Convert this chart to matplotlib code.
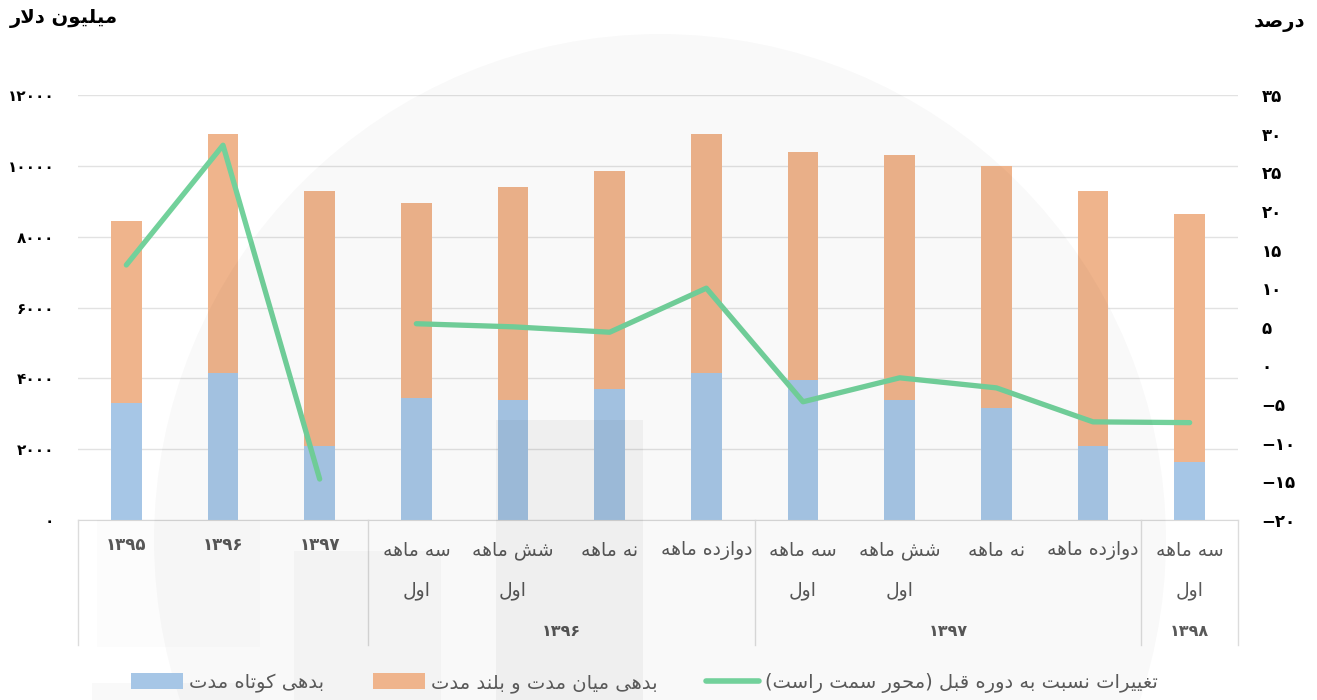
import matplotlib
matplotlib.use("Agg")
import matplotlib.pyplot as plt
from matplotlib.patches import Rectangle, Ellipse, Patch
from matplotlib.lines import Line2D
from matplotlib.transforms import blended_transform_factory
import numpy as np

"""
    Persian text helpers (matplotlib has no shaping, so pick the
    presentation forms by hand and lay the glyphs out right-to-left)
"""
# isolated, final, initial, medial  (None -> letter does not join forward)
FORMS = {
    "\u0627": ("\uFE8D", "\uFE8E", None, None),
    "\u0628": ("\uFE8F", "\uFE90", "\uFE91", "\uFE92"),
    "\u062A": ("\uFE95", "\uFE96", "\uFE97", "\uFE98"),
    "\u062D": ("\uFEA1", "\uFEA2", "\uFEA3", "\uFEA4"),
    "\u062F": ("\uFEA9", "\uFEAA", None, None),
    "\u0631": ("\uFEAD", "\uFEAE", None, None),
    "\u0632": ("\uFEAF", "\uFEB0", None, None),
    "\u0633": ("\uFEB1", "\uFEB2", "\uFEB3", "\uFEB4"),
    "\u0634": ("\uFEB5", "\uFEB6", "\uFEB7", "\uFEB8"),
    "\u0635": ("\uFEB9", "\uFEBA", "\uFEBB", "\uFEBC"),
    "\u063A": ("\uFECD", "\uFECE", "\uFECF", "\uFED0"),
    "\u0642": ("\uFED5", "\uFED6", "\uFED7", "\uFED8"),
    "\u0644": ("\uFEDD", "\uFEDE", "\uFEDF", "\uFEE0"),
    "\u0645": ("\uFEE1", "\uFEE2", "\uFEE3", "\uFEE4"),
    "\u0646": ("\uFEE5", "\uFEE6", "\uFEE7", "\uFEE8"),
    "\u0647": ("\uFEE9", "\uFEEA", "\uFEEB", "\uFEEC"),
    "\u0648": ("\uFEED", "\uFEEE", None, None),
    "\u06A9": ("\uFB8E", "\uFB8F", "\uFB90", "\uFB91"),
    "\u06CC": ("\uFBFC", "\uFBFD", "\uFBFE", "\uFBFF"),
}
LAM_ALEF = ("\uFEFB", "\uFEFC")
MIRROR = {"(": ")", ")": "("}
FA_DIGITS = str.maketrans("0123456789-", "۰۱۲۳۴۵۶۷۸۹\u2212")


def joins_forward(ch):
    return ch in FORMS and FORMS[ch][2] is not None


def shape_line(line):
    out = []
    i = 0
    n = len(line)
    while i < n:
        ch = line[i]
        if ch not in FORMS:
            out.append(MIRROR.get(ch, ch))
            i += 1
            continue
        prev_joins = i > 0 and joins_forward(line[i - 1])
        # lam + alef ligature
        if ch == "\u0644" and i + 1 < n and line[i + 1] == "\u0627":
            out.append(LAM_ALEF[1] if prev_joins else LAM_ALEF[0])
            i += 2
            continue
        next_joins = joins_forward(ch) and i + 1 < n and line[i + 1] in FORMS
        iso, fin, ini, med = FORMS[ch]
        if prev_joins and next_joins:
            out.append(med)
        elif prev_joins:
            out.append(fin)
        elif next_joins:
            out.append(ini)
        else:
            out.append(iso)
        i += 1
    return "".join(reversed(out))


def fa(text):
    return "\n".join(shape_line(line) for line in text.split("\n"))


def fa_num(value):
    return str(int(value)).translate(FA_DIGITS)


"""
    Data
"""
categories = ["۱۳۹۵", "۱۳۹۶", "۱۳۹۷",
              "سه ماهه\nاول", "شش ماهه\nاول", "نه ماهه", "دوازده ماهه",
              "سه ماهه\nاول", "شش ماهه\nاول", "نه ماهه", "دوازده ماهه",
              "سه ماهه\nاول"]
group_labels = ["۱۳۹۶", "۱۳۹۷", "۱۳۹۸"]
group_spans = [(3, 6), (7, 10), (11, 11)]

# million dollars
short_term = [3300, 4150, 2100, 3450, 3400, 3700, 4150, 3950, 3400, 3150, 2100, 1650]
long_term = [5150, 6750, 7200, 5500, 6000, 6150, 6750, 6450, 6900, 6850, 7200, 7000]
# percent change vs previous period (right axis)
change = [13.0, 28.5, -14.7, 5.4, 5.0, 4.3, 10.0, -4.7, -1.6, -2.9, -7.3, -7.4]

legend_labels = ["بدهی کوتاه مدت", "بدهی میان مدت و بلند مدت",
                 "تغییرات نسبت به دوره قبل (محور سمت راست)"]

blue = "#a6c6e6"
orange = "#efb48c"
green = "#72d19b"
label_gray = "#595959"
grid_gray = "#e2e2e2"

plt.rcParams["font.family"] = ["DejaVu Sans"]

W, H = 1317, 700
fig = plt.figure(figsize=(W / 100, H / 100), dpi=100)
ax = fig.add_axes([78 / W, 1 - 520 / H, (1238 - 78) / W, (520 - 95) / H])
ax2 = ax.twinx()

x = np.arange(len(categories))

ax.bar(x, short_term, width=0.32, color=blue, zorder=2)
ax.bar(x, long_term, width=0.32, bottom=short_term, color=orange, zorder=2)

ax.set_xlim(-0.5, len(categories) - 0.5)
ax.set_ylim(0, 12000)
ax.set_yticks(range(0, 12001, 2000))
ax.set_yticklabels([fa_num(v) for v in range(0, 12001, 2000)],
                   fontsize=11, fontweight="bold")
ax.tick_params(axis="y", length=0, pad=17)
ax.tick_params(axis="x", length=0, labelbottom=False)
ax.yaxis.grid(True, color=grid_gray, linewidth=1, zorder=0)
ax.set_axisbelow(True)
for side in ["top", "left", "right"]:
    ax.spines[side].set_visible(False)
ax.spines["bottom"].set_color("#d9d9d9")

# the line breaks between the yearly and the quarterly part
ax2.plot(x[:3], change[:3], color=green, linewidth=3.8, solid_capstyle="round", zorder=3)
ax2.plot(x[3:], change[3:], color=green, linewidth=3.8, solid_capstyle="round", zorder=3)
ax2.set_ylim(-20, 35)
ax2.set_yticks(range(-20, 36, 5))
ax2.set_yticklabels([fa_num(v) for v in range(-20, 36, 5)],
                    fontsize=12, fontweight="bold")
ax2.tick_params(axis="y", length=0, pad=17)
for side in ["top", "left", "right", "bottom"]:
    ax2.spines[side].set_visible(False)

"""
    Two level category axis
"""
trans = blended_transform_factory(ax.transData, fig.transFigure)
for i, cat in enumerate(categories):
    if cat[0] in "۰۱۲۳۴۵۶۷۸۹":
        ax.text(i, 1 - 545 / H, cat, transform=trans, ha="center", va="center",
                fontsize=12, fontweight="bold", color=label_gray)
    else:
        lines = cat.split("\n")
        for k, line in enumerate(lines):
            ax.text(i, 1 - (551 + 40 * k) / H, fa(line), transform=trans,
                    ha="center", va="center", fontsize=13.5,
                    color=label_gray)

for label, (a, b) in zip(group_labels, group_spans):
    ax.text((a + b) / 2, 1 - 632 / H, label, transform=trans, ha="center",
            va="center", fontsize=11.5, fontweight="bold", color=label_gray)

for sep in [-0.5, 2.5, 6.5, 10.5, 11.5]:
    fig.add_artist(Line2D([sep, sep], [1 - 520 / H, 1 - 645 / H], transform=trans,
                          color="#dcdcdc", linewidth=1))

"""
    Axis titles and legend
"""
fig.text(10 / W, 1 - 18 / H, fa("میلیون دلار"), ha="left", va="center",
         fontsize=14, fontweight="bold", color="black")
fig.text(1305 / W, 1 - 22 / H, fa("درصد"), ha="right", va="center",
         fontsize=14, fontweight="bold", color="black")

handles = [Patch(facecolor=blue), Patch(facecolor=orange),
           Line2D([], [], color=green, linewidth=4, solid_capstyle="round")]
fig.legend(handles, [fa(t) for t in legend_labels], loc="center",
           bbox_to_anchor=(644 / W, 1 - 683 / H), ncol=3, frameon=False,
           fontsize=14, handlelength=2.7, handleheight=0.9, handletextpad=0.3,
           columnspacing=2.5, labelcolor=label_gray)

"""
    Faint watermark over the chart
"""
wm = fig.transFigure
fig.add_artist(Ellipse((660 / W, 1 - 540 / H), 1012 / W, 1012 / H, transform=wm,
                       facecolor="black", alpha=0.025, edgecolor="none", zorder=5))
for x0, y0, x1, y1, a in [(496, 420, 643, 700, 0.04), (294, 551, 441, 700, 0.025),
                          (97, 520, 260, 647, 0.012), (92, 683, 260, 700, 0.025)]:
    fig.add_artist(Rectangle((x0 / W, 1 - y1 / H), (x1 - x0) / W, (y1 - y0) / H,
                             transform=wm, facecolor="black", alpha=a,
                             edgecolor="none", zorder=5))

fig.savefig("out.png", dpi=100)
